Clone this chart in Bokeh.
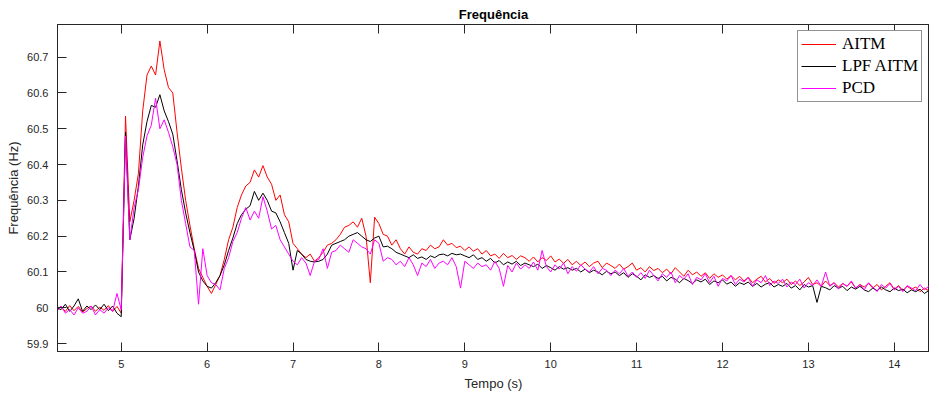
import numpy as np
from bokeh.plotting import figure
from bokeh.models import (FixedTicker, LinearAxis, Range1d, Legend, LegendItem,
                          CustomJSTickFormatter)
from bokeh.embed import file_html
from bokeh.resources import INLINE

# ---------------- data ----------------
t_start = 4.25
t_step = 0.05
n_pts = 205
tempo = np.round(t_start + t_step * np.arange(n_pts), 2)

aitm = [
    59.995, 60.003, 59.99, 60.006, 59.992, 60.004, 59.988, 59.998, 60.005, 59.99,
    60.002, 59.993, 60.006, 59.99, 60.004, 59.985, 60.535, 60.24, 60.30, 60.375,
    60.55, 60.65, 60.675, 60.65, 60.745, 60.665, 60.615, 60.60, 60.49, 60.39,
    60.30, 60.23, 60.165, 60.11, 60.085, 60.06, 60.04, 60.065, 60.09, 60.135,
    60.19, 60.225, 60.28, 60.315, 60.34, 60.35, 60.385, 60.365, 60.397, 60.365,
    60.345, 60.30, 60.315, 60.26, 60.24, 60.18, 60.165, 60.15, 60.14, 60.15,
    60.13, 60.14, 60.155, 60.175, 60.18, 60.19, 60.205, 60.225, 60.23, 60.24,
    60.225, 60.25, 60.20, 60.07, 60.253, 60.235, 60.205, 60.20, 60.175, 60.19,
    60.165, 60.15, 60.17, 60.155, 60.15, 60.165, 60.16, 60.175, 60.165, 60.17,
    60.19, 60.175, 60.18, 60.168, 60.172, 60.16, 60.17, 60.158, 60.165, 60.15,
    60.16, 60.145, 60.15, 60.138, 60.152, 60.14, 60.146, 60.135, 60.145, 60.14,
    60.13, 60.142, 60.128, 60.14, 60.132, 60.145, 60.128, 60.136, 60.124, 60.135,
    60.12, 60.13, 60.118, 60.128, 60.115, 60.125, 60.13, 60.112, 60.125, 60.118,
    60.11, 60.122, 60.108, 60.115, 60.125, 60.105, 60.112, 60.10, 60.115, 60.104,
    60.11, 60.098, 60.108, 60.095, 60.112, 60.10, 60.088, 60.105, 60.092, 60.10,
    60.088, 60.098, 60.082, 60.095, 60.085, 60.092, 60.08, 60.09, 60.078, 60.088,
    60.075, 60.085, 60.07, 60.08, 60.088, 60.072, 60.082, 60.068, 60.078, 60.07,
    60.08, 60.065, 60.075, 60.062, 60.072, 60.085, 60.065, 60.07, 60.06, 60.075,
    60.062, 60.07, 60.058, 60.068, 60.06, 60.072, 60.055, 60.065, 60.058, 60.068,
    60.055, 60.065, 60.05, 60.06, 60.07, 60.052, 60.062, 60.048, 60.06, 60.052,
    60.058, 60.045, 60.055, 60.048, 60.052,
]

lpf_aitm = [
    60.0, 59.995, 60.01, 59.99, 60.005, 60.025, 59.99, 60.005, 59.995, 60.008,
    59.995, 60.01, 59.992, 60.005, 59.985, 59.975, 60.49, 60.19, 60.25, 60.34,
    60.455, 60.52, 60.565, 60.56, 60.595, 60.55, 60.52, 60.485, 60.41, 60.33,
    60.265, 60.21, 60.16, 60.10, 60.075, 60.06, 60.055, 60.07, 60.09, 60.12,
    60.16, 60.195, 60.235, 60.26, 60.275, 60.285, 60.325, 60.30, 60.32, 60.30,
    60.27, 60.265, 60.24, 60.21, 60.18, 60.105, 60.16, 60.15, 60.135, 60.13,
    60.128, 60.13, 60.135, 60.15, 60.175, 60.18, 60.185, 60.19, 60.20, 60.205,
    60.21, 60.20, 60.19, 60.185, 60.195, 60.20, 60.17, 60.172, 60.165, 60.155,
    60.15, 60.145, 60.14, 60.148, 60.138, 60.142, 60.135, 60.145, 60.14, 60.148,
    60.15, 60.145, 60.152, 60.148, 60.15, 60.145, 60.14, 60.148, 60.135, 60.14,
    60.13, 60.138, 60.125, 60.132, 60.12, 60.128, 60.122, 60.13, 60.118, 60.125,
    60.12, 60.115, 60.122, 60.11, 60.118, 60.112, 60.105, 60.115, 60.108, 60.112,
    60.105, 60.11, 60.10, 60.108, 60.098, 60.105, 60.10, 60.092, 60.102, 60.095,
    60.10, 60.09, 60.098, 60.085, 60.095, 60.088, 60.078, 60.092, 60.085, 60.09,
    60.082, 60.088, 60.075, 60.085, 60.08, 60.07, 60.082, 60.076, 60.068, 60.078,
    60.072, 60.08, 60.065, 60.075, 60.07, 60.078, 60.066, 60.072, 60.06, 60.07,
    60.065, 60.072, 60.06, 60.068, 60.058, 60.066, 60.07, 60.058, 60.065, 60.06,
    60.068, 60.055, 60.062, 60.05, 60.065, 60.058, 60.062, 60.015, 60.06, 60.056,
    60.05, 60.062, 60.055, 60.06, 60.048, 60.058, 60.052, 60.06, 60.05, 60.045,
    60.055, 60.048, 60.058, 60.05, 60.045, 60.055, 60.048, 60.052, 60.042, 60.05,
    60.045, 60.052, 60.04, 60.048, 60.044,
]

pcd = [
    59.99, 60.005, 59.985, 59.995, 59.98, 60.0, 59.985, 59.99, 60.005, 59.98,
    59.995, 59.985, 60.0, 59.99, 60.04, 59.995, 60.48, 60.19, 60.28, 60.33,
    60.42, 60.48, 60.51, 60.585, 60.50, 60.525, 60.49, 60.45, 60.40, 60.30,
    60.235, 60.17, 60.16, 60.01, 60.165, 60.09, 60.07, 60.065, 60.05, 60.11,
    60.14, 60.185, 60.21, 60.25, 60.28, 60.245, 60.27, 60.25, 60.31, 60.27,
    60.22, 60.23, 60.19, 60.17, 60.15, 60.13, 60.12, 60.14, 60.125, 60.09,
    60.13, 60.135, 60.165, 60.11, 60.155, 60.16, 60.175, 60.165, 60.155, 60.19,
    60.18, 60.17, 60.165, 60.15, 60.19, 60.18, 60.13, 60.14, 60.135, 60.12,
    60.13, 60.115, 60.14, 60.12, 60.09, 60.125, 60.115, 60.135, 60.11, 60.125,
    60.13, 60.12, 60.14, 60.115, 60.055, 60.13, 60.12, 60.11, 60.125, 60.115,
    60.12, 60.105, 60.13, 60.11, 60.06, 60.118, 60.10, 60.125, 60.108, 60.12,
    60.11, 60.128, 60.105, 60.16, 60.115, 60.10, 60.12, 60.108, 60.125, 60.095,
    60.115, 60.102, 60.12, 60.108, 60.10, 60.115, 60.095, 60.11, 60.105, 60.09,
    60.105, 60.095, 60.11, 60.088, 60.10, 60.085, 60.098, 60.082, 60.105, 60.09,
    60.075, 60.095, 60.085, 60.10, 60.07, 60.09, 60.08, 60.095, 60.065, 60.085,
    60.078, 60.095, 60.07, 60.088, 60.06, 60.082, 60.075, 60.09, 60.065, 60.08,
    60.072, 60.085, 60.06, 60.078, 60.07, 60.09, 60.062, 60.075, 60.068, 60.08,
    60.058, 60.072, 60.065, 60.08, 60.055, 60.07, 60.062, 60.078, 60.06, 60.10,
    60.06, 60.07, 60.052, 60.068, 60.06, 60.075, 60.055, 60.065, 60.05, 60.07,
    60.058, 60.045, 60.065, 60.055, 60.068, 60.05, 60.06, 60.045, 60.062, 60.055,
    60.048, 60.065, 60.05, 60.06, 60.045,
]

series_names = ["AITM", "LPF AITM", "PCD"]
x_ticks = [5, 6, 7, 8, 9, 10, 11, 12, 13, 14]
y_ticks = [59.9, 60.0, 60.1, 60.2, 60.3, 60.4, 60.5, 60.6, 60.7]

# ---------------- figure ----------------
AX = "#262626"
SANS = "Liberation Sans"

p = figure(width=929, height=398, output_backend="svg", toolbar_location=None,
           x_range=Range1d(4.258, 14.41), y_range=Range1d(59.878, 60.791),
           min_border_left=57, min_border_right=0, min_border_top=24,
           min_border_bottom=47, background_fill_color="white",
           border_fill_color="white")

p.title.text = "Frequência"
p.title.align = "center"
p.title.text_font = SANS
p.title.text_font_style = "bold"
p.title.text_font_size = "13px"
p.title.text_color = "black"
p.title.standoff = 5

p.grid.visible = False
p.outline_line_color = AX
p.outline_line_width = 1

fmt_y = CustomJSTickFormatter(code="return tick.toFixed(1).replace(/\\.0$/, '');")

for ax in p.xaxis:
    ax.ticker = FixedTicker(ticks=x_ticks)
for ax in p.yaxis:
    ax.ticker = FixedTicker(ticks=y_ticks)
    ax.formatter = fmt_y

for ax in list(p.xaxis) + list(p.yaxis):
    ax.major_tick_in = 9
    ax.major_tick_out = 0
    ax.minor_tick_line_color = None
    ax.axis_line_color = AX
    ax.major_tick_line_color = AX
    ax.major_label_text_font = SANS
    ax.major_label_text_font_size = "11px"
    ax.major_label_text_color = AX
    ax.axis_label_text_font = SANS
    ax.axis_label_text_font_size = "13px"
    ax.axis_label_text_font_style = "normal"
    ax.axis_label_text_color = AX

p.xaxis.axis_label = "Tempo (s)"
p.xaxis.major_label_standoff = 8
p.xaxis.axis_label_standoff = 5
p.yaxis.axis_label = "Frequência (Hz)"
p.yaxis.major_label_standoff = 9
p.yaxis.axis_label_standoff = 3

top_axis = LinearAxis(ticker=FixedTicker(ticks=x_ticks), major_tick_in=9,
                      major_tick_out=0, minor_tick_line_color=None,
                      axis_line_color=AX, major_tick_line_color=AX,
                      formatter=CustomJSTickFormatter(code="return '';"),
                      major_label_standoff=0)
p.add_layout(top_axis, "above")

r1 = p.line(tempo, aitm, line_color="#ff0000", line_width=1)
r2 = p.line(tempo, lpf_aitm, line_color="#000000", line_width=1)
r3 = p.line(tempo, pcd, line_color="#ff00ff", line_width=1)

legend = Legend(items=[LegendItem(label=series_names[0], renderers=[r1]),
                       LegendItem(label=series_names[1], renderers=[r2]),
                       LegendItem(label=series_names[2], renderers=[r3])],
                location=(740, 249))
legend.label_text_font = "Liberation Serif"
legend.label_text_font_size = "17px"
legend.label_text_color = "black"
legend.label_height = 20
legend.glyph_height = 20
legend.glyph_width = 35
legend.label_standoff = 6
legend.spacing = 2
legend.padding = 3
legend.margin = 0
legend.border_line_color = AX
legend.border_line_width = 1
legend.background_fill_color = "white"
legend.background_fill_alpha = 1.0
p.add_layout(legend, "center")

open("out.html", "w").write(file_html(p, INLINE))
